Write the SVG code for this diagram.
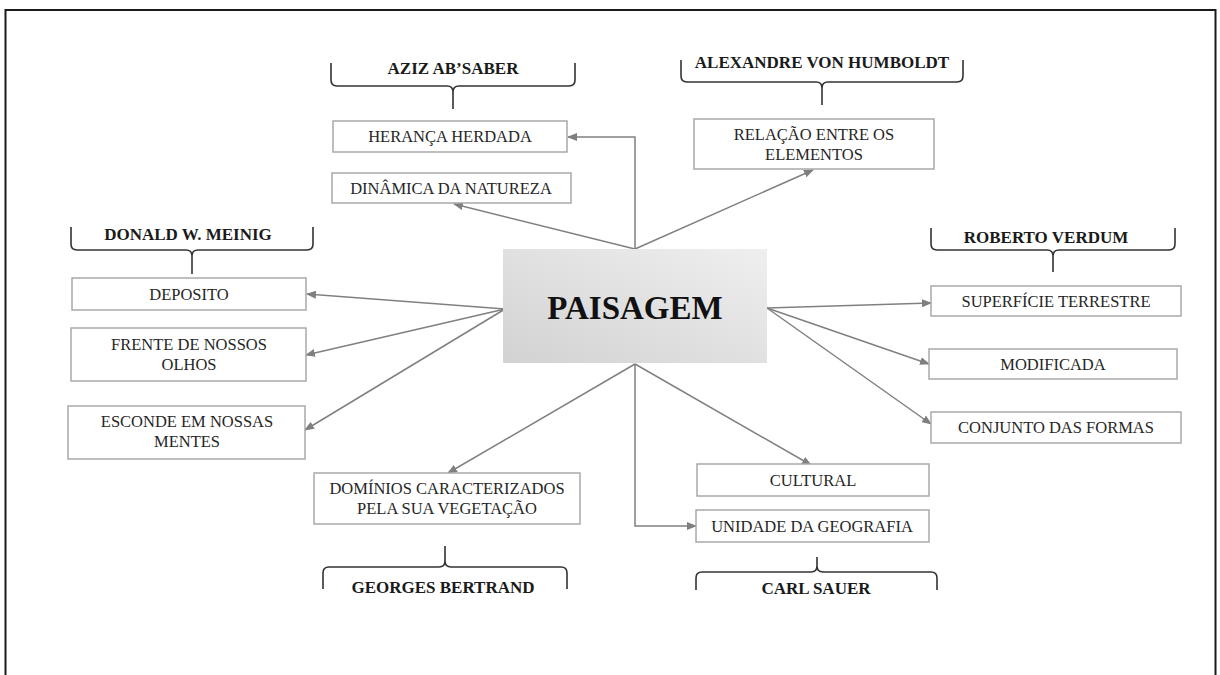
<svg xmlns="http://www.w3.org/2000/svg" width="1220" height="675" viewBox="0 0 1220 675">
<defs>
<linearGradient id="g" x1="1" y1="0" x2="0" y2="1">
<stop offset="0" stop-color="#efefef"/>
<stop offset="1" stop-color="#d2d2d2"/>
</linearGradient>
<marker id="ar" markerUnits="userSpaceOnUse" markerWidth="10" markerHeight="8" refX="9" refY="4" orient="auto">
<path d="M0,0 L10,4 L0,8 Z" fill="#7f7f7f"/>
</marker>
<style>
.box{fill:#fff;stroke:#a9a9a9;stroke-width:1.5}
.t{font-family:"Liberation Serif","Times New Roman",serif;font-size:16.5px;fill:#262626;text-anchor:middle}
.h{font-family:"Liberation Serif","Times New Roman",serif;font-size:17px;font-weight:bold;fill:#1a1a1a;text-anchor:middle}
.br{fill:none;stroke:#333;stroke-width:1.6}
.c{fill:none;stroke:#808080;stroke-width:1.5;marker-end:url(#ar)}
</style>
</defs>
<rect x="0" y="0" width="1220" height="675" fill="#fff"/>
<path d="M5.5,690 L5.5,10 L1215.5,10 L1215.5,690" fill="none" stroke="#1a1a1a" stroke-width="2"/>

<g id="connectors">
<path class="c" d="M635,249 L635,137 L568,137"/>
<path class="c" d="M635,249 L454,204"/>
<path class="c" d="M635,249 L813,170"/>
<path class="c" d="M505,309 L307,294"/>
<path class="c" d="M505,309 L306,355"/>
<path class="c" d="M505,309 L305,430"/>
<path class="c" d="M767,308 L931,303"/>
<path class="c" d="M767,308 L929,364"/>
<path class="c" d="M767,308 L931,424"/>
<path class="c" d="M635,364 L448,473"/>
<path class="c" d="M635,364 L811,465"/>
<path class="c" d="M635,364 L635,526 L696,526"/>
</g>

<g id="paisagem">
<rect x="503" y="249" width="264" height="114" fill="url(#g)"/>
<text x="635" y="319" font-family="Liberation Serif, Times New Roman, serif" font-size="33" font-weight="bold" fill="#111" text-anchor="middle">PAISAGEM</text>
</g>

<g id="aziz">
<path class="br" d="M331,63 L331,80 Q331,86 337,86 L447,86 Q453,86 453,92 L453,109 M575,63 L575,80 Q575,86 569,86 L459,86 Q453,86 453,92"/>
<text class="h" x="453" y="74">AZIZ AB’SABER</text>
</g>
<g id="heranca">
<rect class="box" x="333" y="121" width="234" height="31"/>
<text class="t" x="450" y="142">HERANÇA HERDADA</text>
</g>
<g id="dinamica">
<rect class="box" x="332" y="173" width="239" height="30"/>
<text class="t" x="451" y="194">DINÂMICA DA NATUREZA</text>
</g>

<g id="humboldt">
<path class="br" d="M681,60 L681,76 Q681,82 687,82 L816,82 Q822,82 822,88 L822,105 M963,60 L963,76 Q963,82 957,82 L828,82 Q822,82 822,88"/>
<text class="h" x="822" y="68">ALEXANDRE VON HUMBOLDT</text>
</g>
<g id="relacao">
<rect class="box" x="694" y="119" width="240" height="50"/>
<text class="t" x="814" y="140">RELAÇÃO ENTRE OS</text>
<text class="t" x="814" y="160">ELEMENTOS</text>
</g>

<g id="meinig">
<path class="br" d="M71,227 L71,244 Q71,250 77,250 L186,250 Q192,250 192,256 L192,274 M313,227 L313,244 Q313,250 307,250 L198,250 Q192,250 192,256"/>
<text class="h" x="188" y="240">DONALD W. MEINIG</text>
</g>
<g id="deposito">
<rect class="box" x="72" y="278" width="234" height="32"/>
<text class="t" x="189" y="300">DEPOSITO</text>
</g>
<g id="frente">
<rect class="box" x="71" y="328" width="235" height="53"/>
<text class="t" x="189" y="350">FRENTE DE NOSSOS</text>
<text class="t" x="189" y="370">OLHOS</text>
</g>
<g id="esconde">
<rect class="box" x="68" y="406" width="237" height="53"/>
<text class="t" x="187" y="427">ESCONDE EM NOSSAS</text>
<text class="t" x="187" y="447">MENTES</text>
</g>

<g id="verdum">
<path class="br" d="M931,228 L931,244 Q931,250 937,250 L1047,250 Q1053,250 1053,256 L1053,272 M1175,228 L1175,244 Q1175,250 1169,250 L1059,250 Q1053,250 1053,256"/>
<text class="h" x="1046" y="243">ROBERTO VERDUM</text>
</g>
<g id="superficie">
<rect class="box" x="931" y="286" width="250" height="30"/>
<text class="t" x="1056" y="307">SUPERFÍCIE TERRESTRE</text>
</g>
<g id="modificada">
<rect class="box" x="929" y="349" width="248" height="30"/>
<text class="t" x="1053" y="370">MODIFICADA</text>
</g>
<g id="conjunto">
<rect class="box" x="931" y="412" width="250" height="31"/>
<text class="t" x="1056" y="433">CONJUNTO DAS FORMAS</text>
</g>

<g id="dominios">
<rect class="box" x="314" y="473" width="266" height="51"/>
<text class="t" x="447" y="494">DOMÍNIOS CARACTERIZADOS</text>
<text class="t" x="447" y="514">PELA SUA VEGETAÇÃO</text>
</g>
<g id="bertrand">
<path class="br" d="M445,546 L445,561 Q445,567 439,567 L329,567 Q323,567 323,573 L323,589 M445,561 Q445,567 451,567 L561,567 Q567,567 567,573 L567,589"/>
<text class="h" x="443" y="593">GEORGES BERTRAND</text>
</g>

<g id="cultural">
<rect class="box" x="697" y="464" width="232" height="32"/>
<text class="t" x="813" y="486">CULTURAL</text>
</g>
<g id="unidade">
<rect class="box" x="696" y="510" width="233" height="32"/>
<text class="t" x="812" y="532">UNIDADE DA GEOGRAFIA</text>
</g>
<g id="sauer">
<path class="br" d="M817,557 L817,566 Q817,572 811,572 L702,572 Q696,572 696,578 L696,590 M817,566 Q817,572 823,572 L931,572 Q937,572 937,578 L937,590"/>
<text class="h" x="816" y="594">CARL SAUER</text>
</g>
</svg>
